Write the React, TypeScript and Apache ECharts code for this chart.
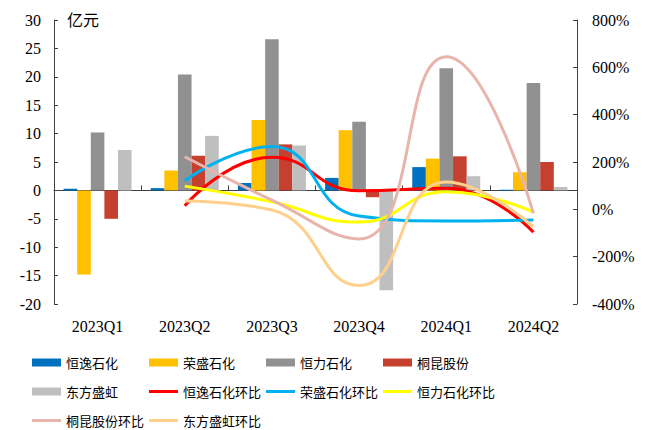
import React, { useEffect, useRef } from "react";
import * as echarts from "echarts";

const categories = ["2023Q1", "2023Q2", "2023Q3", "2023Q4", "2024Q1", "2024Q2"];

const hengyi = [0.3, 0.4, 1.3, 2.2, 4.1, 0.1];
const rongsheng = [-14.8, 3.5, 12.4, 10.6, 5.6, 3.2];
const hengli = [10.2, 20.4, 26.6, 12.1, 21.5, 18.9];
const tongkun = [-5.0, 6.1, 8.1, -1.2, 6.0, 5.0];
const dongfang = [7.1, 9.6, 7.9, -17.6, 2.5, 0.6];

const hengyiQoq = [null, 15, 220, 78, 89, -97];
const rongshengQoq = [null, 121, 265, -28, -49, -45];
const hengliQoq = [null, 98, 32, -54, 74, -12];
const tongkunQoq = [null, 222, 39, -125, 645, -17];
const dongfangQoq = [null, 35, -3, -322, 115, -73];

const leftTicks = { min: -20, max: 30, interval: 5 };
const rightTicks = { min: -400, max: 800, interval: 200 };

const barNames = ["恒逸石化", "荣盛石化", "恒力石化", "桐昆股份", "东方盛虹"];
const barColors = ["#0070C0", "#FFC000", "#919191", "#C5402F", "#BFBFBF"];
const barData = [hengyi, rongsheng, hengli, tongkun, dongfang];

const lineNames = ["恒逸石化环比", "荣盛石化环比", "恒力石化环比", "桐昆股份环比", "东方盛虹环比"];
const lineColors = ["#FF0000", "#00B0F0", "#FFFF00", "#E8B4AC", "#FFD08C"];
const lineData = [hengyiQoq, rongshengQoq, hengliQoq, tongkunQoq, dongfangQoq];

const legendOrder = [...barNames, ...lineNames];

const serif = "'Liberation Serif', 'Times New Roman', serif";
const cjk = "'Noto Sans CJK SC', sans-serif";

export default function App() {
  const ref = useRef<HTMLDivElement>(null);
  useEffect(() => {
    if (!ref.current) return;
    const chart = echarts.init(ref.current, null, { renderer: "svg" });
    const series: any[] = [];
    barNames.forEach((n, i) => {
      series.push({
        name: n,
        type: "bar",
        yAxisIndex: 0,
        data: barData[i],
        barGap: "0%",
        barCategoryGap: "22%",
        itemStyle: { color: barColors[i] },
      });
    });
    lineNames.forEach((n, i) => {
      series.push({
        name: n,
        type: "line",
        yAxisIndex: 1,
        data: lineData[i],
        smooth: 0.5,
        symbol: "none",
        showSymbol: false,
        lineStyle: { color: lineColors[i], width: 3 },
        itemStyle: { color: lineColors[i] },
        z: 3,
      });
    });

    const colX = [27, 144, 261, 378];
    const rowTop = [351, 380, 409];
    const legends = legendOrder.map((name, i) => {
      const isBar = barNames.includes(name);
      return {
        left: colX[i % 4],
        top: rowTop[Math.floor(i / 4)],
        itemWidth: 29,
        itemHeight: isBar ? 8 : 3,
        icon: "rect",
        data: [name],
        selectedMode: false,
        textStyle: { fontFamily: cjk, fontSize: 13, color: "#000" },
      };
    });

    chart.setOption({
      animation: false,
      grid: { left: 54, right: 69, top: 20, bottom: 126 },
      legend: legends,
      xAxis: [
        {
          type: "category",
          data: categories,
          axisLine: { onZero: true, lineStyle: { color: "#404040", width: 1 } },
          axisTick: { show: true, inside: true, length: 5, lineStyle: { color: "#404040" } },
          axisLabel: { show: false },
        },
        {
          type: "category",
          data: categories,
          position: "bottom",
          axisLine: { show: false, onZero: false },
          axisTick: { show: false },
          axisLabel: { fontFamily: serif, fontSize: 16, color: "#000", margin: 14 },
        },
      ],
      yAxis: [
        {
          type: "value",
          ...leftTicks,
          axisLine: { show: true, lineStyle: { color: "#404040" } },
          axisTick: { show: true, inside: true, length: 4, lineStyle: { color: "#404040" } },
          splitLine: { show: false },
          axisLabel: { fontFamily: serif, fontSize: 16, color: "#000", margin: 13 },
        },
        {
          type: "value",
          ...rightTicks,
          position: "right",
          axisLine: { show: true, lineStyle: { color: "#404040" } },
          axisTick: { show: true, inside: true, length: 4, lineStyle: { color: "#404040" } },
          splitLine: { show: false },
          axisLabel: { fontFamily: serif, fontSize: 16, color: "#000", margin: 15, formatter: "{value}%" },
        },
      ],
      graphic: [
        {
          type: "text",
          left: 67,
          top: 11,
          style: { text: "亿元", font: `16px ${cjk}`, fill: "#000" },
        },
      ],
      series,
    });
    return () => chart.dispose();
  }, []);
  return <div ref={ref} style={{ width: 646, height: 430, position: "absolute", left: 0, top: 0 }} />;
}
